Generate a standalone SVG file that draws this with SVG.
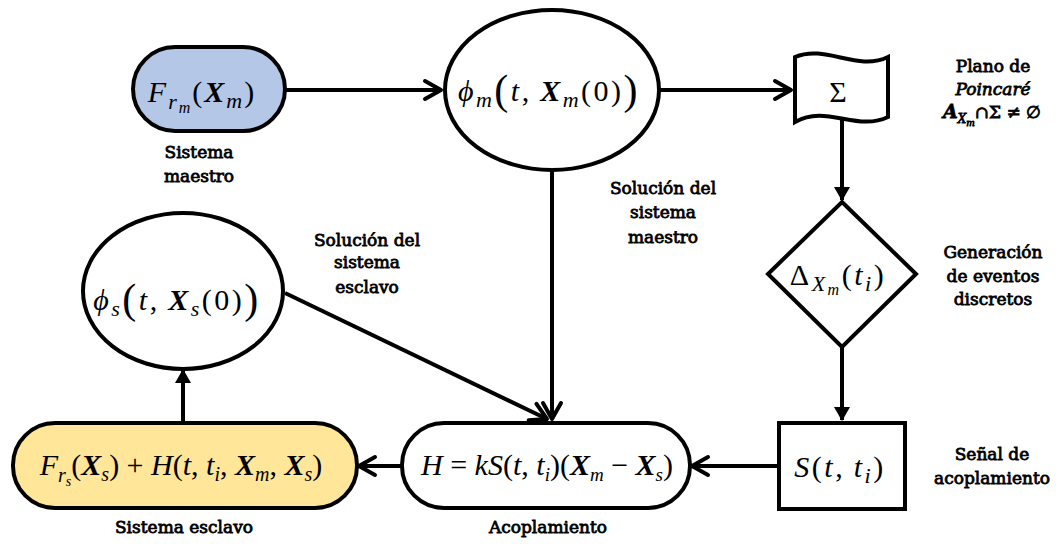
<svg xmlns="http://www.w3.org/2000/svg" width="1063" height="544" viewBox="0 0 1063 544">
<style>
.node{stroke:#000;stroke-width:4;}
.line{stroke:#000;stroke-width:4;fill:none;}
.lbl{font-family:"DejaVu Serif",serif;font-size:17px;text-anchor:middle;fill:#000;stroke:#000;stroke-width:0.8px;}
.m{font-family:"Liberation Serif",serif;font-size:30px;text-anchor:middle;fill:#000;}
.i{font-style:italic;}
.b{font-style:italic;font-weight:bold;}
</style>
<defs>
<marker id="ch" markerUnits="userSpaceOnUse" markerWidth="40" markerHeight="40" viewBox="-20 -20 40 40" refX="0" refY="0" orient="auto">
<path d="M-16,-9 L0,0 L-16,9" fill="none" stroke="#000" stroke-width="4" stroke-linecap="round" stroke-linejoin="round"/>
</marker>
<marker id="tri" markerUnits="userSpaceOnUse" markerWidth="40" markerHeight="40" viewBox="-20 -20 40 40" refX="0" refY="0" orient="auto">
<path d="M-13,-8 L1,0 L-13,8 Z" fill="#000"/>
</marker>
</defs>
<rect width="1063" height="544" fill="#fff"/>

<g id="connectors">
<line class="line" x1="285" y1="90" x2="441" y2="90" marker-end="url(#ch)"/>
<line class="line" x1="660" y1="90" x2="791" y2="90" marker-end="url(#ch)"/>
<line class="line" x1="842" y1="120" x2="842" y2="200" marker-end="url(#tri)"/>
<line class="line" x1="842" y1="347" x2="842" y2="420" marker-end="url(#tri)"/>
<line class="line" x1="779" y1="466" x2="692" y2="466" marker-end="url(#ch)"/>
<line class="line" x1="402" y1="466" x2="359" y2="466" marker-end="url(#ch)"/>
<line class="line" x1="183" y1="423" x2="183" y2="370" marker-end="url(#tri)"/>
<line class="line" x1="552" y1="170" x2="552" y2="419" marker-end="url(#ch)"/>
<line class="line" x1="285" y1="293" x2="547" y2="419" marker-end="url(#ch)"/>
</g>

<g id="n-master">
<rect class="node" x="133" y="47" width="152" height="84" rx="42" fill="#b4c7e7"/>
<text class="m" x="202" y="102" font-size="34" letter-spacing="2"><tspan class="i">F</tspan><tspan class="i" font-size="22" dy="7">r</tspan><tspan class="i" font-size="16" dy="4">m</tspan><tspan dy="-11">(</tspan><tspan class="b">X</tspan><tspan class="i" font-size="22" dy="6">m</tspan><tspan dy="-6">)</tspan></text>
<text class="lbl" x="199" y="158">Sistema</text>
<text class="lbl" x="199" y="182">maestro</text>
</g>

<g id="n-phim">
<ellipse class="node" cx="552" cy="90" rx="107" ry="80" fill="#fff"/>
<text class="m" x="549" y="101" font-size="32" letter-spacing="2.5"><tspan class="i">ϕ</tspan><tspan class="i" font-size="22" dy="6">m</tspan><tspan font-size="42" dy="-3">(</tspan><tspan class="i" dy="-3">t</tspan><tspan>,&#8201;</tspan><tspan class="b">X</tspan><tspan class="i" font-size="22" dy="6">m</tspan><tspan dy="-6">(0)</tspan><tspan font-size="42" dy="3">)</tspan></text>
<text class="lbl" x="663" y="194">Solución del</text>
<text class="lbl" x="663" y="218">sistema</text>
<text class="lbl" x="663" y="243">maestro</text>
</g>

<g id="n-poincare">
<path class="node" d="M795,57 C826,44 857,72 888,57 L888,117 C857,132 826,104 795,122 Z" fill="#fff"/>
<text class="m" x="838" y="102" font-size="28">Σ</text>
<text class="lbl" x="993" y="72">Plano de</text>
<text class="lbl" x="993" y="95" font-style="italic" stroke-width="0.3">Poincaré</text>
<text class="lbl" x="992" y="118"><tspan font-style="italic" font-weight="bold" font-size="19">A</tspan><tspan font-style="italic" font-size="12" dy="5">X</tspan><tspan font-style="italic" font-size="9" dy="3">m</tspan><tspan dy="-8">∩Σ ≠ ∅</tspan></text>
</g>

<g id="n-delta">
<path class="node" d="M842,202 L916,274 L842,347 L768,274 Z" fill="#fff"/>
<text class="m" x="838" y="285" font-size="31" letter-spacing="2.5"><tspan>Δ</tspan><tspan class="i" font-size="22" dy="6">X</tspan><tspan class="i" font-size="16" dy="4">m</tspan><tspan dy="-10">(</tspan><tspan class="i">t</tspan><tspan class="i" font-size="22" dy="6">i</tspan><tspan dy="-6">)</tspan></text>
<text class="lbl" x="993" y="258">Generación</text>
<text class="lbl" x="993" y="282">de eventos</text>
<text class="lbl" x="993" y="305">discretos</text>
</g>

<g id="n-signal">
<rect class="node" x="779" y="423" width="126" height="86" fill="#fff"/>
<text class="m" x="840" y="477" font-size="33" letter-spacing="2.5"><tspan class="i">S</tspan><tspan>(</tspan><tspan class="i">t</tspan><tspan>,&#8201;</tspan><tspan class="i">t</tspan><tspan class="i" font-size="22" dy="6">i</tspan><tspan dy="-6">)</tspan></text>
<text class="lbl" x="992" y="460">Señal de</text>
<text class="lbl" x="992" y="484">acoplamiento</text>
</g>

<g id="n-coupling">
<rect class="node" x="402" y="423" width="288" height="85" rx="42" fill="#fff"/>
<text class="m" x="547" y="475" font-size="27"><tspan class="i">H</tspan><tspan> = </tspan><tspan class="i">kS</tspan><tspan>(</tspan><tspan class="i">t</tspan><tspan>, </tspan><tspan class="i">t</tspan><tspan class="i" font-size="19" dy="6">i</tspan><tspan dy="-6">)(</tspan><tspan class="b">X</tspan><tspan class="i" font-size="19" dy="6">m</tspan><tspan dy="-6"> − </tspan><tspan class="b">X</tspan><tspan class="i" font-size="19" dy="6">s</tspan><tspan dy="-6">)</tspan></text>
<text class="lbl" x="548" y="533">Acoplamiento</text>
</g>

<g id="n-slave">
<rect class="node" x="13" y="423" width="344" height="85" rx="42" fill="#ffe699"/>
<text class="m" x="181" y="475" font-size="29"><tspan class="i">F</tspan><tspan class="i" font-size="20" dy="7">r</tspan><tspan class="i" font-size="14" dy="4">s</tspan><tspan dy="-11">(</tspan><tspan class="b">X</tspan><tspan class="i" font-size="20" dy="6">s</tspan><tspan dy="-6">) + </tspan><tspan class="i">H</tspan><tspan>(</tspan><tspan class="i">t</tspan><tspan>, </tspan><tspan class="i">t</tspan><tspan class="i" font-size="20" dy="6">i</tspan><tspan dy="-6">, </tspan><tspan class="b">X</tspan><tspan class="i" font-size="20" dy="6">m</tspan><tspan dy="-6">, </tspan><tspan class="b">X</tspan><tspan class="i" font-size="20" dy="6">s</tspan><tspan dy="-6">)</tspan></text>
<text class="lbl" x="184" y="533">Sistema esclavo</text>
</g>

<g id="n-phis">
<ellipse class="node" cx="183" cy="291" rx="100" ry="78" fill="#fff"/>
<text class="m" x="177" y="310" font-size="32" letter-spacing="2.5"><tspan class="i">ϕ</tspan><tspan class="i" font-size="22" dy="6">s</tspan><tspan font-size="42" dy="-3">(</tspan><tspan class="i" dy="-3">t</tspan><tspan>,&#8201;</tspan><tspan class="b">X</tspan><tspan class="i" font-size="22" dy="6">s</tspan><tspan dy="-6">(0)</tspan><tspan font-size="42" dy="3">)</tspan></text>
<text class="lbl" x="367" y="246">Solución del</text>
<text class="lbl" x="367" y="268">sistema</text>
<text class="lbl" x="367" y="293">esclavo</text>
</g>
</svg>
